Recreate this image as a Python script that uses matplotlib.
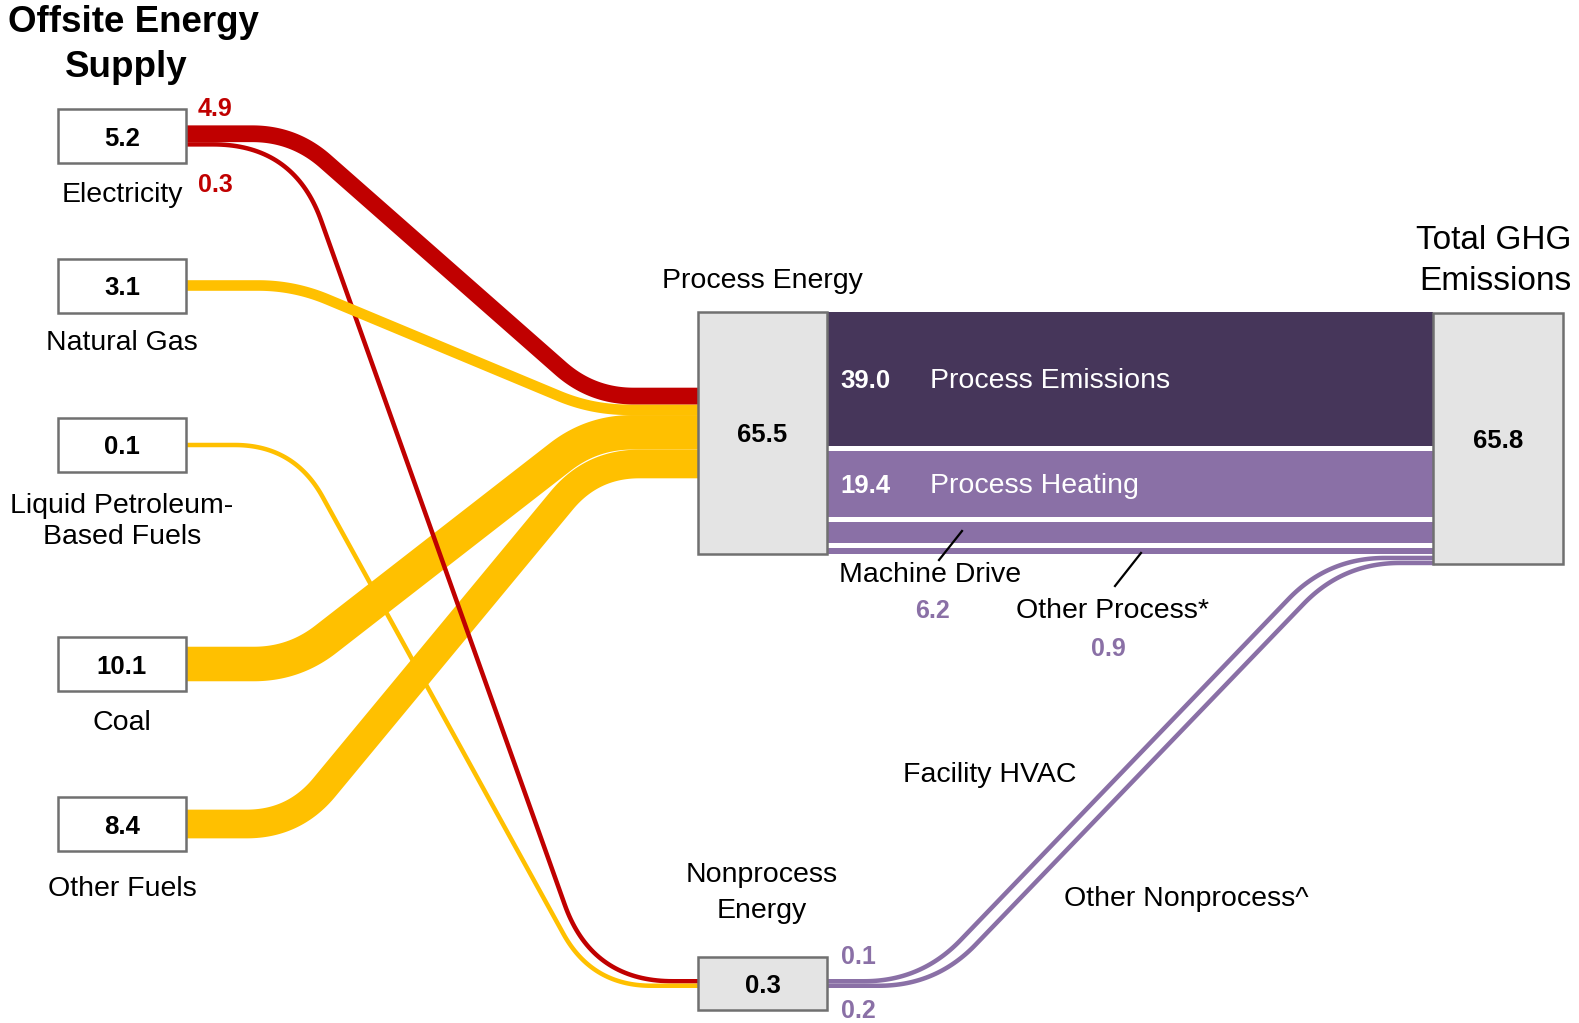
import numpy as np
import matplotlib
matplotlib.use("Agg")
import matplotlib.pyplot as plt
from matplotlib.patches import Rectangle

plt.rcParams['font.family'] = ['Liberation Sans', 'DejaVu Sans']

# offsite energy supply (MMT CO2e)
sources = ["Electricity", "Natural Gas", "Liquid Petroleum-\nBased Fuels", "Coal", "Other Fuels"]
source_totals = [5.2, 3.1, 0.1, 10.1, 8.4]
to_process = [4.9, 3.1, 0.0, 10.1, 8.4]
to_nonprocess = [0.3, 0.0, 0.1, 0.0, 0.0]

process_total = 65.5
nonprocess_total = 0.3
ghg_total = 65.8

end_uses = ["Process Emissions", "Process Heating", "Machine Drive", "Other Process*"]
end_use_vals = [39.0, 19.4, 6.2, 0.9]
nonprocess_uses = ["Facility HVAC", "Other Nonprocess^"]
nonprocess_vals = [0.1, 0.2]

# colours
RED = '#C00000'
YEL = '#FFC000'
DARK = '#46365A'
LIGHT = '#8A70A6'
BOXGREY = '#E4E4E4'
EDGE = '#707070'
src_colors = [RED, YEL, YEL, YEL, YEL]

S = 3.42        # px per unit
MINW = 4.5      # thinnest drawn flow, px
PX = 72 / 100   # px -> pt at dpi 100
DY = 2.5        # small nudge so text sits like the original


def stack(widths, center, gap=0.0):
    total = sum(widths) + gap * (len(widths) - 1)
    y = center - total / 2
    out = []
    for w in widths:
        out.append(y + w / 2)
        y += w + gap
    return out


def flow_path(x0, y0, x1, y1, xa, xb):
    # horizontal -> straight diagonal -> horizontal, corners rounded
    L = np.hypot(xb - xa, y1 - y0)
    d = 0.08 * L + 10
    u = np.array([xb - xa, y1 - y0]) / L
    t = np.linspace(0, 1, 40)[:, None]

    def quad(p0, p1, p2):
        return (1 - t) ** 2 * p0 + 2 * (1 - t) * t * p1 + t ** 2 * p2

    A = np.array([xa, y0])
    B = np.array([xb, y1])
    c1 = quad(A - [d, 0], A, A + d * u)
    c2 = quad(B - d * u, B, B + [d, 0])
    pts = np.vstack([[x0, y0], c1, c2, [x1, y1]])
    return pts[:, 0], pts[:, 1]


def txt(x, y, s, **kw):
    kw.setdefault('ha', 'center')
    kw.setdefault('va', 'center')
    kw.setdefault('zorder', 4)
    ax.text(x, y + DY, s, **kw)


fig = plt.figure(figsize=(15.79, 10.23), dpi=100)
ax = fig.add_axes([0, 0, 1, 1])
ax.set_xlim(0, 1579)
ax.set_ylim(1023, 0)
ax.axis('off')

# layout
src_x0, src_x1 = 58, 186
src_cy = [136, 285.5, 445, 664, 824]
proc_x0, proc_x1, proc_top, proc_bot = 698, 827, 312, 554
non_y0, non_y1 = 957, 1010
ghg_x0, ghg_x1, ghg_top, ghg_bot = 1433, 1563, 313, 564
bend_left = (294, 592)

# flows out of each source
proc_in = []
non_in = []
src_out = {}
for i in range(len(sources)):
    ws = []
    if to_process[i] > 0:
        ws.append(('p', max(to_process[i] * S, MINW)))
    if to_nonprocess[i] > 0:
        ws.append(('n', max(to_nonprocess[i] * S, MINW)))
    cs = stack([w for _, w in ws], src_cy[i])
    for (k, w), c in zip(ws, cs):
        src_out[(i, k)] = (c, w)
        if k == 'p':
            proc_in.append(i)
        else:
            non_in.append(i)

proc_cy = (proc_top + proc_bot) / 2
non_cy = (non_y0 + non_y1) / 2
pc = stack([src_out[(i, 'p')][1] for i in proc_in], proc_cy)
nc = stack([src_out[(i, 'n')][1] for i in non_in], non_cy)

order = [('p', 3), ('p', 4), ('n', 0), ('p', 1), ('p', 0), ('n', 2)]
for k, i in order:
    y0, w = src_out[(i, k)]
    if k == 'p':
        y1 = pc[proc_in.index(i)]
    else:
        y1 = nc[non_in.index(i)]
    xs, ys = flow_path(src_x1 - 2, y0, proc_x0 + 2, y1, *bend_left)
    ax.plot(xs, ys, color=src_colors[i], lw=w * PX, solid_capstyle='butt',
            solid_joinstyle='round', zorder=1)

# process end-use bands to total GHG
band_w = [max(v * S, 5.5) for v in end_use_vals]
band_c = stack(band_w, proc_cy, gap=5.0)
ax.barh(band_c, ghg_x0 - proc_x1, left=proc_x1, height=band_w,
        color=[DARK, LIGHT, LIGHT, LIGHT], zorder=1)
for k in range(2):
    txt(proc_x1 + 38, band_c[k], f"{end_use_vals[k]:.1f}", color='white',
        fontsize=18.5, fontweight='bold')
    txt(proc_x1 + 103, band_c[k], end_uses[k], color='white',
        fontsize=20.5, ha='left')

# nonprocess to total GHG
line_w = 4.5
nout = stack([line_w] * 2, non_cy)
last_bot = band_c[-1] + band_w[-1] / 2
gin = [last_bot + 2.0 + line_w / 2, last_bot + 2.0 + line_w * 1.5 + 0.5]
bends = [(921, 1328), (936, 1343)]
for j in range(2):
    xs, ys = flow_path(proc_x1 - 2, nout[j], ghg_x0 + 2, gin[j], *bends[j])
    ax.plot(xs, ys, color=LIGHT, lw=line_w * PX, solid_capstyle='butt',
            solid_joinstyle='round', zorder=1)

# boxes
for i, name in enumerate(sources):
    ax.add_patch(Rectangle((src_x0, src_cy[i] - 27), src_x1 - src_x0, 54,
                           fc='white', ec=EDGE, lw=1.8, zorder=3))
    txt((src_x0 + src_x1) / 2, src_cy[i], f"{source_totals[i]:.1f}",
        fontsize=18.5, fontweight='bold')

label_y = [193, 340, 519, 721, 886]
for i, name in enumerate(sources):
    txt(122, label_y[i], name, fontsize=20.5, linespacing=1.25)

ax.add_patch(Rectangle((proc_x0, proc_top), proc_x1 - proc_x0, proc_bot - proc_top,
                       fc=BOXGREY, ec=EDGE, lw=1.8, zorder=3))
txt((proc_x0 + proc_x1) / 2, proc_cy, f"{process_total:.1f}", fontsize=18.5,
    fontweight='bold')
ax.add_patch(Rectangle((proc_x0, non_y0), proc_x1 - proc_x0, non_y1 - non_y0,
                       fc=BOXGREY, ec=EDGE, lw=1.8, zorder=3))
txt((proc_x0 + proc_x1) / 2, non_cy, f"{nonprocess_total:.1f}", fontsize=18.5,
    fontweight='bold')
ax.add_patch(Rectangle((ghg_x0, ghg_top), ghg_x1 - ghg_x0, ghg_bot - ghg_top,
                       fc=BOXGREY, ec=EDGE, lw=1.8, zorder=3))
txt((ghg_x0 + ghg_x1) / 2, (ghg_top + ghg_bot) / 2, f"{ghg_total:.1f}",
    fontsize=18.5, fontweight='bold')

# headings
txt(133, 20, "Offsite Energy", fontsize=26.5, fontweight='bold')
txt(126, 65, "Supply", fontsize=26.5, fontweight='bold')
txt(1571, 238, "Total GHG", fontsize=24, ha='right')
txt(1571, 279, "Emissions", fontsize=24, ha='right')
txt(762, 278, "Process Energy", fontsize=20.5)
txt(762, 873, "Nonprocess", fontsize=20.5)
txt(762, 908, "Energy", fontsize=20.5)

# electricity split labels
txt(215, 106, f"{to_process[0]:.1f}", color=RED, fontsize=18, fontweight='bold')
txt(215, 182, f"{to_nonprocess[0]:.1f}", color=RED, fontsize=18, fontweight='bold')

# small process end uses
txt(930, 572, end_uses[2], fontsize=20.5)
ax.plot([939, 962], [560, 531], color='black', lw=1.6, zorder=5)
txt(932, 608, f"{end_use_vals[2]:.1f}", color=LIGHT, fontsize=18, fontweight='bold')
txt(1112, 608, end_uses[3], fontsize=20.5)
ax.plot([1115, 1141], [586, 553], color='black', lw=1.6, zorder=5)
txt(1108, 646, f"{end_use_vals[3]:.1f}", color=LIGHT, fontsize=18, fontweight='bold')

# nonprocess end uses
txt(990, 773, nonprocess_uses[0], fontsize=20.5)
txt(1186, 896, nonprocess_uses[1], fontsize=20.5)
txt(858, 954, f"{nonprocess_vals[0]:.1f}", color=LIGHT, fontsize=18, fontweight='bold')
txt(858, 1008, f"{nonprocess_vals[1]:.1f}", color=LIGHT, fontsize=18, fontweight='bold')

fig.savefig("out.png", dpi=100)
